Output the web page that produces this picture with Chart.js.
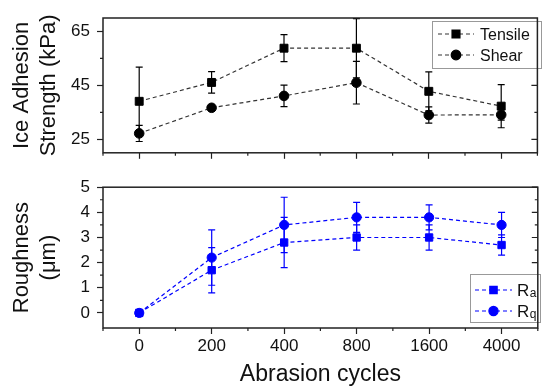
<!DOCTYPE html>
<html>
<head>
<meta charset="utf-8">
<script src="https://cdn.jsdelivr.net/npm/chart.js@4"></script>
<style>
  body { margin: 0; background: #fff; }
  #wrapTop { position: absolute; left: 0; top: 0; width: 544px; height: 170px; }
  #wrapBottom { position: absolute; left: 0; top: 170px; width: 544px; height: 216px; }
</style>
</head>
<body>
<div id="wrapTop"><canvas id="adhesionChart"></canvas></div>
<div id="wrapBottom"><canvas id="roughChart"></canvas></div>
<script>
var cycles = ["0", "200", "400", "800", "1600", "4000"];

// ice adhesion strength (kPa)
var tensile = [39.1, 46.1, 58.8, 58.8, 42.8, 37.3];
var tensileErr = [12.7, 4, 5, 11, 7.2, 8];
var shear = [27.2, 36.7, 41.1, 46.0, 34.0, 34.1];
var shearErr = [3, 1, 4, 7.9, 3, 2];

// roughness (um)
var ra = [0, 1.7, 2.8, 3.0, 3.0, 2.7];
var raErr = [0, 0.9, 1.0, 0.5, 0.5, 0.4];
var rq = [0, 2.2, 3.5, 3.8, 3.8, 3.5];
var rqErr = [0, 1.1, 1.1, 0.6, 0.5, 0.5];

var adhesionTicks = [25, 45, 65];
var adhesionMinor = [35, 55];
var roughTicks = [0, 1, 2, 3, 4, 5];
var roughMinor = [0.5, 1.5, 2.5, 3.5, 4.5];

var FONT = "'Liberation Sans', Arial, sans-serif";
var INK = "#111";
var BLUE = "#0000ff";

// error bars, frame, minor ticks and the boxed legend
var extras = {
  id: "extras",
  beforeDatasetsDraw: function (chart) {
    var ctx = chart.ctx, y = chart.scales.y, a = chart.chartArea;
    ctx.save();
    ctx.beginPath();
    ctx.rect(a.left, a.top, a.right - a.left, a.bottom - a.top);
    ctx.clip();
    chart.data.datasets.forEach(function (ds, i) {
      var meta = chart.getDatasetMeta(i);
      ctx.strokeStyle = ds.errorColor;
      ctx.lineWidth = 1.2;
      ctx.setLineDash([]);
      meta.data.forEach(function (pt, j) {
        var e = ds.errors[j];
        if (!e) return;
        var t = y.getPixelForValue(ds.data[j] + e);
        var b = y.getPixelForValue(ds.data[j] - e);
        ctx.beginPath();
        ctx.moveTo(pt.x, t); ctx.lineTo(pt.x, b);
        ctx.moveTo(pt.x - 3.5, t); ctx.lineTo(pt.x + 3.5, t);
        ctx.moveTo(pt.x - 3.5, b); ctx.lineTo(pt.x + 3.5, b);
        ctx.stroke();
      });
    });
    ctx.restore();
  },
  afterDraw: function (chart, args, opts) {
    var ctx = chart.ctx, a = chart.chartArea, x = chart.scales.x, y = chart.scales.y;
    ctx.save();
    ctx.strokeStyle = "#222";
    ctx.lineWidth = 1.2;
    ctx.beginPath();
    // x minor ticks between categories
    var step = x.getPixelForTick(1) - x.getPixelForTick(0);
    for (var i = 0; i <= cycles.length; i++) {
      var px = x.getPixelForTick(0) + (i - 0.5) * step;
      ctx.moveTo(px, a.bottom); ctx.lineTo(px, a.bottom + 3);
    }
    // y minor ticks outside, mirrored ticks inside on the right
    opts.minor.forEach(function (v) {
      var py = y.getPixelForValue(v);
      ctx.moveTo(a.left - 3, py); ctx.lineTo(a.left, py);
      ctx.moveTo(a.right - 3, py); ctx.lineTo(a.right, py);
    });
    opts.major.forEach(function (v) {
      var py = y.getPixelForValue(v);
      ctx.moveTo(a.right - 6, py); ctx.lineTo(a.right, py);
    });
    ctx.stroke();

    // legend box
    var L = opts.legend;
    ctx.fillStyle = "#fff";
    ctx.fillRect(L.box[0], L.box[1], L.box[2], L.box[3]);
    ctx.strokeStyle = "#999";
    ctx.lineWidth = 1;
    ctx.strokeRect(L.box[0] + 0.5, L.box[1] + 0.5, L.box[2], L.box[3]);
    chart.data.datasets.forEach(function (ds, i) {
      var ry = L.rows[i];
      ctx.strokeStyle = ds.borderColor;
      ctx.lineWidth = ds.borderWidth;
      ctx.setLineDash(ds.borderDash);
      ctx.beginPath();
      ctx.moveTo(L.line[0], ry); ctx.lineTo(L.line[1], ry);
      ctx.stroke();
      ctx.setLineDash([]);
      ctx.fillStyle = ds.pointBackgroundColor;
      ctx.strokeStyle = ds.pointBackgroundColor;
      Chart.helpers.drawPoint(ctx, { pointStyle: ds.pointStyle, radius: ds.pointRadius, rotation: 0, borderWidth: 1 },
        (L.line[0] + L.line[1]) / 2, ry);
      ctx.fillStyle = INK;
      ctx.textBaseline = "alphabetic";
      ctx.textAlign = "left";
      if (ds.sub) {
        ctx.font = "17px " + FONT;
        ctx.fillText(ds.label.charAt(0), L.textX, ry + 6);
        var w = ctx.measureText(ds.label.charAt(0)).width;
        ctx.font = "12px " + FONT;
        ctx.fillText(ds.label.slice(1), L.textX + w + 0.5, ry + 7);
      } else {
        ctx.font = "16px " + FONT;
        ctx.fillText(ds.label, L.textX, ry + 6);
      }
    });

    // frame
    ctx.strokeStyle = "#222";
    ctx.lineWidth = 1.5;
    ctx.strokeRect(a.left, a.top, a.right - a.left, a.bottom - a.top);
    ctx.restore();
  }
};

function series(label, values, errs, style, radius, lineColor, pointColor, sub) {
  return {
    label: label,
    data: values,
    errors: errs,
    sub: sub,
    errorColor: pointColor,
    borderColor: lineColor,
    borderWidth: 1.2,
    borderDash: [4, 3],
    pointStyle: style,
    pointRadius: radius,
    pointBackgroundColor: pointColor,
    pointBorderColor: pointColor,
    pointBorderWidth: 1,
    fill: false,
    tension: 0,
    clip: false
  };
}

function xAxis(showLabels, height) {
  return {
    type: "category",
    labels: cycles,
    offset: true,
    afterFit: function (s) { s.height = height; },
    grid: { drawOnChartArea: false, offset: false, tickLength: 6, tickColor: "#222", tickWidth: 1.2 },
    border: { display: false },
    ticks: { display: showLabels, padding: 2, color: INK, maxRotation: 0, minRotation: 0, autoSkip: false,
             font: { family: FONT, size: 17 } },
    title: { display: showLabels, text: "Abrasion cycles", color: INK, padding: { top: 0, bottom: -2 },
             font: { family: FONT, size: 23 } }
  };
}

function yAxis(min, max, ticks, title) {
  return {
    min: min,
    max: max,
    afterBuildTicks: function (s) { s.ticks = ticks.map(function (v) { return { value: v }; }); },
    afterFit: function (s) { s.width = 103; },
    grid: { drawOnChartArea: false, tickLength: 6, tickColor: "#222", tickWidth: 1.2 },
    border: { display: false },
    ticks: { padding: 7, color: INK, font: { family: FONT, size: 17 } },
    title: { display: true, text: title, color: INK, padding: { top: 9 }, font: { family: FONT, size: 22 } }
  };
}

new Chart(document.getElementById("adhesionChart"), {
  type: "line",
  data: {
    labels: cycles,
    datasets: [
      series("Tensile", tensile, tensileErr, "rect", 5.6, "#333", "#000", false),
      series("Shear", shear, shearErr, "circle", 4.8, "#333", "#000", false)
    ]
  },
  options: {
    responsive: true,
    maintainAspectRatio: false,
    animation: false,
    devicePixelRatio: 1,
    layout: { padding: { top: 18, right: 1, left: 0, bottom: 0 } },
    scales: {
      x: xAxis(false, 7),
      y: yAxis(20, 70, adhesionTicks, ["Ice Adhesion", "Strength (kPa)"])
    },
    plugins: {
      legend: { display: false },
      tooltip: { enabled: false },
      extras: {
        major: adhesionTicks,
        minor: adhesionMinor,
        legend: { box: [432, 21, 109, 47], rows: [34, 55], line: [438, 474], textX: 480 }
      }
    }
  },
  plugins: [extras]
});

new Chart(document.getElementById("roughChart"), {
  type: "line",
  data: {
    labels: cycles,
    datasets: [
      series("Ra", ra, raErr, "rect", 5.2, BLUE, BLUE, true),
      series("Rq", rq, rqErr, "circle", 4.6, BLUE, BLUE, true)
    ]
  },
  options: {
    responsive: true,
    maintainAspectRatio: false,
    animation: false,
    devicePixelRatio: 1,
    layout: { padding: { top: 13, right: 1, left: 0, bottom: 0 } },
    scales: {
      x: xAxis(true, 58),
      y: yAxis(-0.6, 5, roughTicks, ["Roughness", "(\u03bcm)"])
    },
    plugins: {
      legend: { display: false },
      tooltip: { enabled: false },
      extras: {
        major: roughTicks,
        minor: roughMinor,
        legend: { box: [470, 104, 70, 48], rows: [120, 141], line: [475, 512], textX: 517 }
      }
    }
  },
  plugins: [extras]
});
</script>
</body>
</html>
